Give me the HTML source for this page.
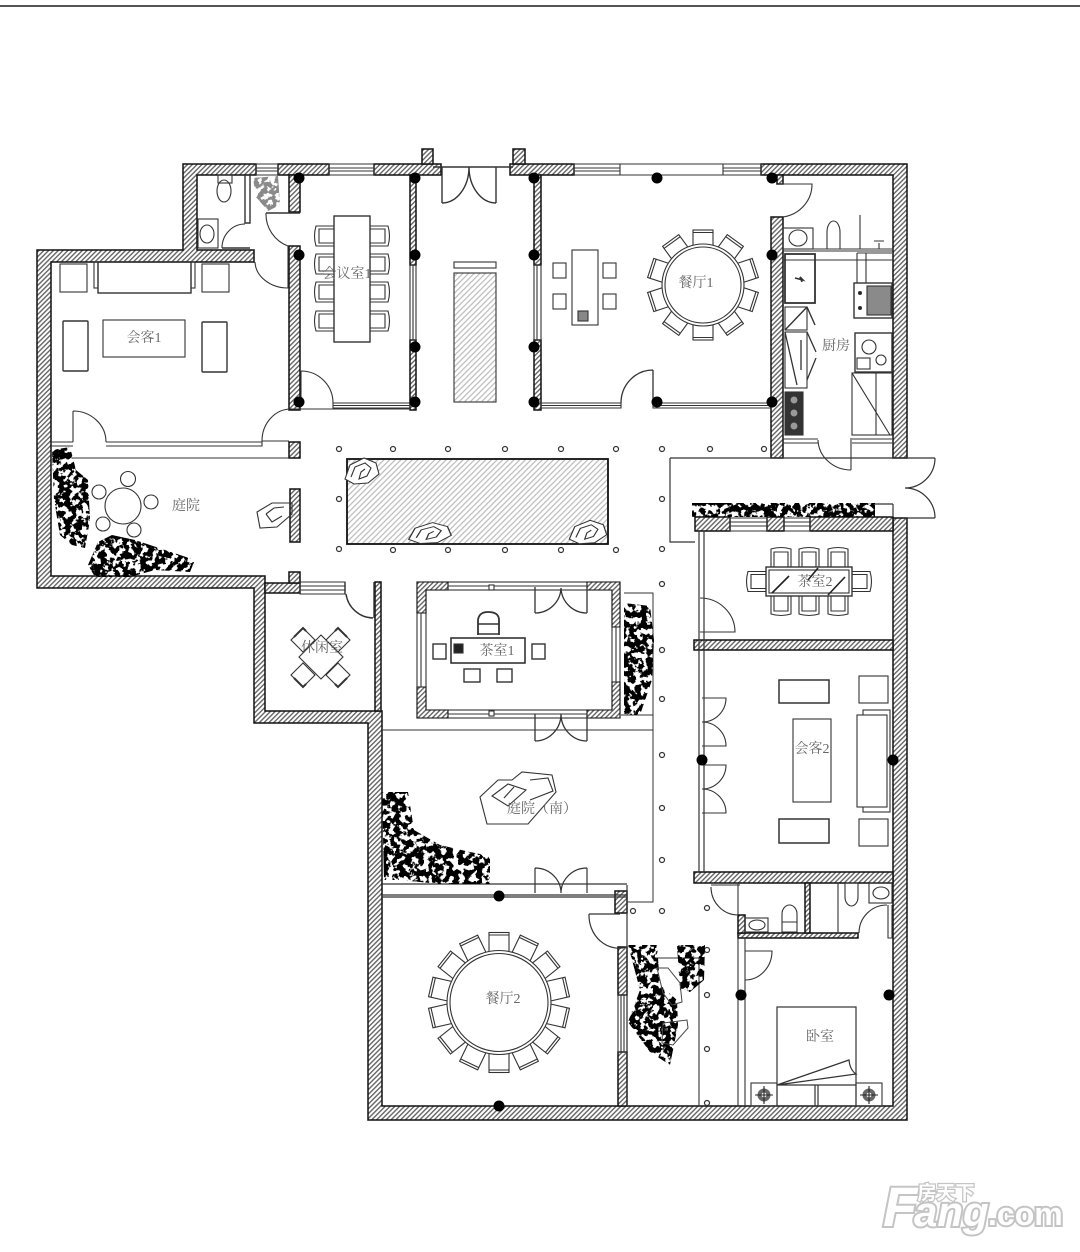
<!DOCTYPE html>
<html><head><meta charset="utf-8"><style>
html,body{margin:0;padding:0;background:#fff}
svg{display:block}
text{font-family:"Liberation Serif","Noto Serif CJK SC",serif;font-size:14px;fill:#666;stroke:none;text-anchor:middle}
</style></head><body>
<svg width="1080" height="1252" viewBox="0 0 1080 1252" xmlns="http://www.w3.org/2000/svg">
<defs>
<pattern id="h" width="3.4" height="3.4" patternUnits="userSpaceOnUse" patternTransform="rotate(45)"><rect width="3.4" height="3.4" fill="#fff"/><rect width="1.4" height="3.4" fill="#666"/></pattern>
<pattern id="p" width="4" height="4" patternUnits="userSpaceOnUse" patternTransform="rotate(45)"><rect width="4" height="4" fill="#fff"/><rect width="1.2" height="4" fill="#bbb"/></pattern>
<filter id="leaf" x="-10%" y="-10%" width="120%" height="120%"><feTurbulence type="fractalNoise" baseFrequency="0.17" numOctaves="3" seed="7" result="n"/><feColorMatrix in="n" type="matrix" values="0 0 0 0 0 0 0 0 0 0 0 0 0 0 0 0 0 0 14 -6" result="a"/><feComposite in="SourceGraphic" in2="a" operator="in"/></filter>
<g id="c"><path d="M-10 10V-9Q0 -12 10 -9V10Z" fill="#fff"/><path d="M-7 10V-6H7V10"/></g>
<g id="sc"><rect x="-10" y="-10" width="20" height="20" fill="#fff"/><path d="M-10 -7.500H10"/></g>
<g id="knob"><circle r="6.500" fill="#666" stroke="none"/><circle r="2.500" fill="#fff" stroke="none"/><path d="M-9 0h18M0 -9v18" stroke="#222"/></g>
<g id="rock"><path d="M-17 8 -12 -6 2 -13 14 -8 17 3 6 12 -8 13Z" fill="#fff"/><path d="M-11 6 -7 -4 3 -8 9 -3 5 5 -3 8 -1 1 3 -2"/></g>
</defs>
<rect width="1080" height="1252" fill="#fff"/>
<rect x="0" y="5" width="1080" height="2" fill="#555"/>
<g fill="none" stroke="#333" stroke-width="1.1">

<!-- Outer walls -->
<g fill="url(#h)" stroke="#111" stroke-width="1.5">
<path d="M183 164H256V175H197V250H254V262H51V576H265V711H382V1106H893V518H907V1120H368V723H254V588H37V250H183Z"/>
<rect x="278" y="164" width="51" height="11"/>
<rect x="374" y="164" width="67" height="11"/>
<rect x="510" y="164" width="64" height="11"/>
<path d="M761 164H907V458H893V175H761Z"/>
<rect x="422" y="149" width="11" height="15"/>
<rect x="513" y="149" width="12" height="15"/>
<rect x="289" y="175" width="11" height="37"/>
<rect x="289" y="246" width="11" height="164"/>
<rect x="410" y="175" width="6" height="90"/>
<rect x="410" y="340" width="6" height="70"/>
<rect x="534" y="175" width="7" height="90"/>
<rect x="534" y="340" width="7" height="70"/>
<rect x="771" y="217" width="12" height="241"/>
<rect x="777" y="175" width="6" height="9"/>
<rect x="289" y="442" width="11" height="16"/>
<rect x="290" y="489" width="10" height="53"/>
<rect x="265" y="583" width="35" height="10"/>
<rect x="289" y="572" width="11" height="11"/>
<rect x="375" y="582" width="6" height="129"/>
<rect x="695" y="517" width="35" height="14"/>
<rect x="767" y="517" width="17" height="14"/>
<rect x="810" y="517" width="83" height="14"/>
<rect x="694" y="640" width="199" height="10"/>
<rect x="694" y="872" width="199" height="11"/>
<rect x="738" y="933" width="120" height="5"/>
<rect x="805" y="883" width="5" height="50"/>
<rect x="738" y="915" width="7" height="18"/>
<rect x="615" y="891" width="12" height="22"/>
<rect x="618" y="947" width="9" height="48"/>
<rect x="618" y="1052" width="9" height="54"/>
</g>

<!-- Windows -->
<path d="M256 164h22v11h-22zM256 168h22M256 171h22M329 164h45v11h-45zM329 168h45M329 171h45M574 164h46v11h-46zM574 168h46M574 171h46M723 164h38v11h-38zM723 168h38M723 171h38M620 164h103M620 175h103M730 518h37v13h-37zM730 522h37M730 526h37M784 518h26v13h-26zM784 522h26M784 526h26"/>
<path d="M300 582h45v12h-45zM300 586h45M300 590h45"/>
<path d="M410 265h6v75h-6zM413 265v75M534 265h7v75h-7zM537 265v75M618 995h9v57h-9zM621 995v57M624 995v57"/>
<path d="M333 403H410V408H333ZM333 405.500H410M541 403H621V408H541ZM541 405.500H621M653 403H771V408H653ZM653 405.500H771M290 409H410"/>

<!-- Top door -->
<path d="M433 167H513M442 167V203M496 167V203M442 203A27 36 0 0 0 469 167M496 203A27 36 0 0 1 469 167" stroke-width="1.4"/>
<!-- Hall feature -->
<rect x="454" y="262" width="42" height="6" fill="#fff"/><rect x="454" y="273" width="42" height="129" fill="url(#p)"/>

<!-- Bath NW -->
<path d="M245 175V223H250V175M222 248H250M266 213H300" stroke-width="1.4"/>
<path d="M222 248A23 24 0 0 1 245 224M266 213A34 34 0 0 0 288 246V288M255 262A33 27 0 0 0 288 288"/>
<rect x="198" y="219" width="20" height="29"/><ellipse cx="207" cy="234" rx="7" ry="9"/>
<rect x="218" y="175" width="14" height="8"/><ellipse cx="224" cy="191" rx="7" ry="11"/>
<g fill="#8a8a8a" stroke="none" filter="url(#leaf)"><path d="M253 178 278 176 280 205 268 211 256 197Z"/></g>

<!-- Conference -->
<use href="#c" transform="translate(325 236) rotate(-90)"/><use href="#c" transform="translate(325 264) rotate(-90)"/><use href="#c" transform="translate(325 292) rotate(-90)"/><use href="#c" transform="translate(325 321) rotate(-90)"/>
<use href="#c" transform="translate(379 236) rotate(90)"/><use href="#c" transform="translate(379 264) rotate(90)"/><use href="#c" transform="translate(379 292) rotate(90)"/><use href="#c" transform="translate(379 321) rotate(90)"/>
<rect x="334" y="216" width="36" height="126" fill="#fff" stroke-width="1.4"/>
<path d="M301 371V405M301 371A32 32 0 0 1 333 403"/>

<!-- Lounge 1 -->
<rect x="60" y="264" width="27" height="28"/><rect x="202" y="264" width="27" height="28"/>
<rect x="94" y="262" width="4" height="26"/><rect x="191" y="262" width="4" height="26"/><rect x="98" y="262" width="93" height="31" stroke-width="1.4"/>
<rect x="63" y="321" width="25" height="50" rx="1" stroke-width="1.4"/><rect x="202" y="322" width="25" height="50" rx="1" stroke-width="1.4"/>
<rect x="103" y="320" width="82" height="37"/>
<path d="M73 411V442M73 411A33 31 0 0 1 106 442M51 442H73M51 446H73M106 442H262M106 446H262V441H289M262 441A29 32 0 0 1 291 409"/>
<path d="M72 458H289"/>

<!-- Dining 1 -->
<rect x="572" y="250" width="26" height="75"/><rect x="578" y="311" width="10" height="10" fill="#888"/>
<rect x="553" y="263" width="13" height="15"/><rect x="553" y="294" width="13" height="15"/><rect x="603" y="263" width="13" height="15"/><rect x="603" y="294" width="13" height="15"/>
<g transform="translate(703 285)"><use href="#sc" transform="rotate(0) translate(0 -45)"/><use href="#sc" transform="rotate(36) translate(0 -45)"/><use href="#sc" transform="rotate(72) translate(0 -45)"/><use href="#sc" transform="rotate(108) translate(0 -45)"/><use href="#sc" transform="rotate(144) translate(0 -45)"/><use href="#sc" transform="rotate(180) translate(0 -45)"/><use href="#sc" transform="rotate(216) translate(0 -45)"/><use href="#sc" transform="rotate(252) translate(0 -45)"/><use href="#sc" transform="rotate(288) translate(0 -45)"/><use href="#sc" transform="rotate(324) translate(0 -45)"/><circle r="41" fill="#fff"/><circle r="38"/></g>
<path d="M653 370V403M653 370A32 33 0 0 0 621 403" stroke-width="1.3"/>

<!-- Kitchen -->
<path d="M778 184H812A34 33 0 0 1 783 217" />
<rect x="783" y="228" width="30" height="21"/><ellipse cx="798" cy="238" rx="9" ry="8"/>
<path d="M827 249V232A6.500 11 0 0 1 840 232V249ZM860 215V249M879 243V249M874 241H884"/>
<path d="M783 249H893M783 251H893M783 260H893"/>
<rect x="785" y="254" width="30" height="49" stroke-width="1.8"/><path d="M795 278l8 2 -3 -3 2 5" stroke-width="1.6"/>
<path d="M857 253V283M866 253V283M857 253H892"/>
<rect x="854" y="283" width="38" height="35" stroke-width="1.4"/><rect x="867" y="286" width="24" height="29" fill="#8a8a8a"/><circle cx="860" cy="293" r="1.500" fill="#222"/><circle cx="860" cy="308" r="1.500" fill="#222"/>
<rect x="855" y="333" width="37" height="39" stroke-width="1.4"/><circle cx="869" cy="347" r="7"/><circle cx="881" cy="360" r="5"/><rect x="857" y="358" width="13" height="11"/>
<rect x="852" y="373" width="40" height="62"/><path d="M852 373 890 435M876 373V435"/>
<path d="M852 435H892M852 439H892M852 443H892M783 439H818M783 443H818M851 438V470M818 440A33 31 0 0 0 851 470"/>
<rect x="785" y="307" width="22" height="23"/><path d="M785 330 807 307M807 307 815 325" stroke-width="1.4"/>
<rect x="785" y="332" width="22" height="56"/><path d="M785 332 797 385M801 340V370M807 332 816 352M816 358 807 380" stroke-width="1.3"/>
<rect x="785" y="392" width="18" height="43" fill="#333"/><circle cx="794" cy="400" r="4" fill="#999"/><circle cx="794" cy="413" r="4" fill="#999"/><circle cx="794" cy="426" r="4" fill="#999"/>

<!-- Entry corridor -->
<path d="M670 458H905M670 458V542H695M905 458H935M905 518H935M935 458A30 30 0 0 1 905 488M935 518A30 30 0 0 0 905 488M872 504H893M893 504V517" stroke-width="1.2"/>

<!-- Pool -->
<rect x="347" y="459" width="261" height="85" fill="url(#p)" stroke="#111" stroke-width="1.8"/>
<use href="#rock" transform="translate(362 471)"/><use href="#rock" transform="translate(430 533) scale(1.25 .8)"/><use href="#rock" transform="translate(588 532) scale(1.1 .9)"/>
<path d="M257 512 272 503 292 503 292 514 277 527 260 528Z M266 514 274 508 284 507M266 514 272 522 282 516" />

<!-- Left courtyard -->
<circle cx="123" cy="506" r="18"/><circle cx="128" cy="479" r="7.500"/><circle cx="99" cy="492" r="7"/><circle cx="151" cy="502" r="7"/><circle cx="103" cy="524" r="7"/><circle cx="134" cy="530" r="7"/>

<!-- Rest room -->
<path d="M345 582V594M346 594A28 28 0 0 0 373 618M374 582V618" stroke-width="1.4"/>
<g>
<path d="M321 635 343 657 321 679 299 657Z"/>
<path d="M303 628 315 640 303 652 291 640ZM338 628 350 640 338 652 326 640ZM303 663 315 675 303 687 291 675ZM338 663 350 675 338 687 326 675Z"/>
<path d="M294 637 303 628 306 631M347 637 338 628 335 631M294 678 303 687 306 684M347 678 338 687 335 684" stroke-width="2"/>
</g>

<!-- Tea room 1 -->
<rect x="417" y="582" width="203" height="136"/><rect x="426" y="590" width="186" height="120"/>
<g fill="url(#h)" stroke="#111"><path d="M417 582H448V590H426V613H417ZM587 582H620V627H612V590H587ZM417 718H448V710H426V687H417ZM587 718H620V682H612V710H587Z"/></g>
<path d="M421 613V687M616 627V682M448 586H587M448 714H587" />
<rect x="489" y="585" width="5" height="5" fill="#fff"/><rect x="489" y="711" width="5" height="5" fill="#fff"/>
<path d="M535 587V613M587 587V613M535 613A26 26 0 0 0 561 588M587 613A26 26 0 0 1 561 588M535 714V741M587 714V741M535 741A26 27 0 0 0 561 714M587 741A26 27 0 0 1 561 714" stroke-width="1.3"/>
<rect x="451" y="638" width="74" height="25" fill="#fff" stroke-width="1.6"/>
<rect x="454" y="644" width="9" height="9" fill="#222"/>
<rect x="433" y="644" width="13" height="15" stroke-width="1.4"/><rect x="532" y="644" width="13" height="15" stroke-width="1.4"/><rect x="464" y="669" width="16" height="13" stroke-width="1.4"/><rect x="497" y="669" width="15" height="13" stroke-width="1.4"/>
<path d="M478 635V620Q479 612 488 612Q499 612 499 620V635" stroke-width="1.8"/><path d="M478 624H499M478 634H499" stroke-width="1.5"/>

<!-- South court -->
<path d="M382 730H653M624 593H653V902H627M621 715H653" stroke-width="1"/>
<path d="M480 797 498 780 512 780 522 772 552 775 556 792 528 824 487 824Z" fill="#fff"/><path d="M492 796 508 784 526 790 508 806ZM504 798 514 787M530 780 548 778 553 791 530 800" />
<path d="M382 884H627M382 895H627M382 897H627M535 868V893M587 868V893M535 868A26 25 0 0 1 561 893M587 868A26 25 0 0 0 561 893" stroke-width="1.2"/>

<!-- Dining 2 -->
<g transform="translate(499 1002.500)"><use href="#sc" transform="rotate(0) translate(0 -60)"/><use href="#sc" transform="rotate(25.710) translate(0 -60)"/><use href="#sc" transform="rotate(51.430) translate(0 -60)"/><use href="#sc" transform="rotate(77.140) translate(0 -60)"/><use href="#sc" transform="rotate(102.860) translate(0 -60)"/><use href="#sc" transform="rotate(128.570) translate(0 -60)"/><use href="#sc" transform="rotate(154.290) translate(0 -60)"/><use href="#sc" transform="rotate(180) translate(0 -60)"/><use href="#sc" transform="rotate(205.710) translate(0 -60)"/><use href="#sc" transform="rotate(231.430) translate(0 -60)"/><use href="#sc" transform="rotate(257.140) translate(0 -60)"/><use href="#sc" transform="rotate(282.860) translate(0 -60)"/><use href="#sc" transform="rotate(308.570) translate(0 -60)"/><use href="#sc" transform="rotate(334.290) translate(0 -60)"/><circle r="52" fill="#fff"/><circle r="49"/></g>
<path d="M589 914H620M589 914A30 33 0 0 0 627 947M627 885V1106" stroke-width="1.2"/>
<path d="M655 958H699V1106"/>

<!-- Tea room 2 -->
<path d="M699 531V872M704 531V872" stroke-width="1.2"/>
<path d="M700 598A35 34 0 0 1 735 632H700" />
<use href="#c" transform="translate(781 558) scale(1 1)"/><use href="#c" transform="translate(809 558)"/><use href="#c" transform="translate(838 558)"/>
<use href="#c" transform="translate(781 605) rotate(180)"/><use href="#c" transform="translate(809 605) rotate(180)"/><use href="#c" transform="translate(838 605) rotate(180)"/>
<use href="#c" transform="translate(757 581.500) rotate(-90)"/><use href="#c" transform="translate(861 581.500) rotate(90)"/>
<rect x="766" y="567" width="86" height="29" fill="#fff" stroke-width="1.4"/><rect x="769" y="570" width="80" height="23"/>
<path d="M772 593 789 576M808 580 818 568M828 595 845 577" stroke-width="1.6" stroke="#222"/>

<!-- Lounge 2 -->
<path d="M702 698H726A24 24 0 0 1 702 722A24 24 0 0 1 726 746H702M702 765H726A24 24 0 0 1 702 789A24 24 0 0 1 726 813H702" stroke-width="1.1"/>
<rect x="779" y="680" width="50" height="23" stroke-width="1.5"/><rect x="779" y="819" width="50" height="24" stroke-width="1.5"/>
<rect x="859" y="676" width="29" height="27"/><rect x="859" y="819" width="29" height="27"/>
<rect x="793" y="719" width="38" height="83"/><rect x="863" y="710" width="27" height="102"/><rect x="857" y="715" width="30" height="92" fill="#fff"/>

<!-- SE bath + bedroom -->
<path d="M711 885H740M711 887A27 28 0 0 0 738 915M738 883V915"/>
<path d="M738 938V1106M745 938V1106M745 951H772A27 29 0 0 1 745 980" />
<rect x="745" y="918" width="23" height="14"/><ellipse cx="757" cy="925" rx="8" ry="5"/>
<path d="M782 932V914A7.500 9 0 0 1 797 914V932ZM782 922H797M838 883V933" />
<path d="M845 883H858V897A6.500 9 0 0 1 845 897Z"/><rect x="869" y="883" width="23" height="20"/><ellipse cx="881" cy="893" rx="8" ry="6"/>
<path d="M859 933A28 28 0 0 1 887 905M888 905V938H892V905"/>
<rect x="777" y="1007" width="79" height="99" stroke-width="1.2"/>
<path d="M777 1085H856M815 1085V1106M818 1085V1106M777 1085 849 1060Q850 1070 856 1074L777 1085" stroke-width="1.2"/>
<rect x="751" y="1083" width="26" height="23"/><rect x="856" y="1083" width="26" height="23"/>
<use href="#knob" transform="translate(764 1095)"/><use href="#knob" transform="translate(869 1095)"/>

</g>

<!-- Columns -->
<g fill="#000">
<circle cx="299" cy="178" r="5.500"/><circle cx="415" cy="178" r="5.500"/><circle cx="534" cy="178" r="5.500"/><circle cx="657" cy="178" r="5.500"/><circle cx="772" cy="178" r="5.500"/>
<circle cx="299" cy="255" r="5.500"/><circle cx="415" cy="255" r="5.500"/><circle cx="534" cy="255" r="5.500"/><circle cx="772" cy="255" r="5.500"/>
<circle cx="415" cy="347" r="5.500"/><circle cx="534" cy="347" r="5.500"/>
<circle cx="299" cy="402" r="5.500"/><circle cx="415" cy="402" r="5.500"/><circle cx="534" cy="402" r="5.500"/><circle cx="657" cy="402" r="5.500"/><circle cx="772" cy="402" r="5.500"/>
<circle cx="893" cy="760" r="5.500"/><circle cx="702" cy="760" r="5.500"/><circle cx="499" cy="896" r="5.500"/>
<circle cx="741" cy="995" r="5.500"/><circle cx="889" cy="995" r="5.500"/><circle cx="499" cy="1106" r="5.500"/>
</g>

<!-- Small circles -->
<g fill="#fff" stroke="#333" stroke-width="1.2">
<circle cx="339" cy="449" r="2.500"/><circle cx="393" cy="449" r="2.500"/><circle cx="448" cy="449" r="2.500"/><circle cx="505" cy="449" r="2.500"/><circle cx="561" cy="449" r="2.500"/><circle cx="616" cy="449" r="2.500"/><circle cx="662" cy="449" r="2.500"/><circle cx="710" cy="449" r="2.500"/><circle cx="764" cy="449" r="2.500"/>
<circle cx="339" cy="549" r="2.500"/><circle cx="393" cy="550" r="2.500"/><circle cx="448" cy="550" r="2.500"/><circle cx="505" cy="550" r="2.500"/><circle cx="561" cy="550" r="2.500"/><circle cx="616" cy="550" r="2.500"/><circle cx="662" cy="549" r="2.500"/>
<circle cx="339" cy="499" r="2.500"/><circle cx="662" cy="499" r="2.500"/>
<circle cx="662" cy="584" r="2.500"/><circle cx="662" cy="650" r="2.500"/><circle cx="662" cy="699" r="2.500"/><circle cx="662" cy="755" r="2.500"/><circle cx="662" cy="808" r="2.500"/><circle cx="662" cy="860" r="2.500"/><circle cx="662" cy="911" r="2.500"/><circle cx="633" cy="911" r="2.500"/><circle cx="707" cy="908" r="2.500"/>
<circle cx="707" cy="950" r="2.500"/><circle cx="707" cy="995" r="2.500"/><circle cx="707" cy="1049" r="2.500"/><circle cx="707" cy="1103" r="2.500"/>
</g>

<!-- Foliage -->
<g fill="#000" filter="url(#leaf)">
<path d="M52 450 70 447 76 470 88 480 90 520 85 548 72 545 60 535 54 500Z"/>
<path d="M88 565 98 542 112 535 135 540 165 550 195 560 190 572 155 570 130 577 95 577Z"/>
<path d="M692 503H875V517H692Z"/>
<path d="M624 603 650 606 654 640 652 680 640 715 624 715Z"/>
<path d="M382 792 408 792 414 830 440 845 470 852 490 856 490 884 440 884 400 880 384 880Z"/>
<path d="M628 945 657 945 660 985 677 1000 678 1025 670 1065 650 1052 628 1022 640 990Z"/>
<path d="M677 945 705 945 704 980 690 992 680 990Z"/>
</g>
<g fill="none" stroke="#444" stroke-width="1">
<path d="M657 968 668 968 680 983 682 1002 672 1005 663 993Z"/>
<path d="M663 1023 687 1020 688 1028 673 1045 662 1043Z"/>
</g>

<!-- Labels -->
<text x="144" y="342">会客1</text>
<text x="347" y="278">会议室1</text>
<text x="696" y="287">餐厅1</text>
<text x="836" y="350">厨房</text>
<text x="186" y="510">庭院</text>
<text x="322" y="652">休闲室</text>
<text x="497" y="655">茶室1</text>
<text x="542" y="813">庭院（南）</text>
<text x="503" y="1003">餐厅2</text>
<text x="815" y="586">茶室2</text>
<text x="812" y="753">会客2</text>
<text x="820" y="1041">卧室</text>

<!-- Watermark -->
<g style="paint-order:stroke;font-family:'Liberation Sans','Noto Sans CJK SC',sans-serif;font-weight:bold">
<text x="883" y="1226" style="font:italic bold 56px 'Liberation Sans',sans-serif;text-anchor:start;fill:#fff;stroke:#c4c4c4;stroke-width:4px;paint-order:stroke">F</text>
<text x="914" y="1226" style="font:italic bold 42px 'Liberation Sans',sans-serif;text-anchor:start;fill:#fff;stroke:#c4c4c4;stroke-width:4px;paint-order:stroke">ang</text>
<text x="988" y="1225" style="font:bold 32px 'Liberation Sans',sans-serif;text-anchor:start;fill:#fff;stroke:#c4c4c4;stroke-width:4px;paint-order:stroke">.com</text>
<text x="946" y="1199" style="font:bold 19px 'Noto Sans CJK SC',sans-serif;fill:#fff;stroke:#c4c4c4;stroke-width:2.500px;paint-order:stroke">房天下</text>
</g>
</svg>
</body></html>
